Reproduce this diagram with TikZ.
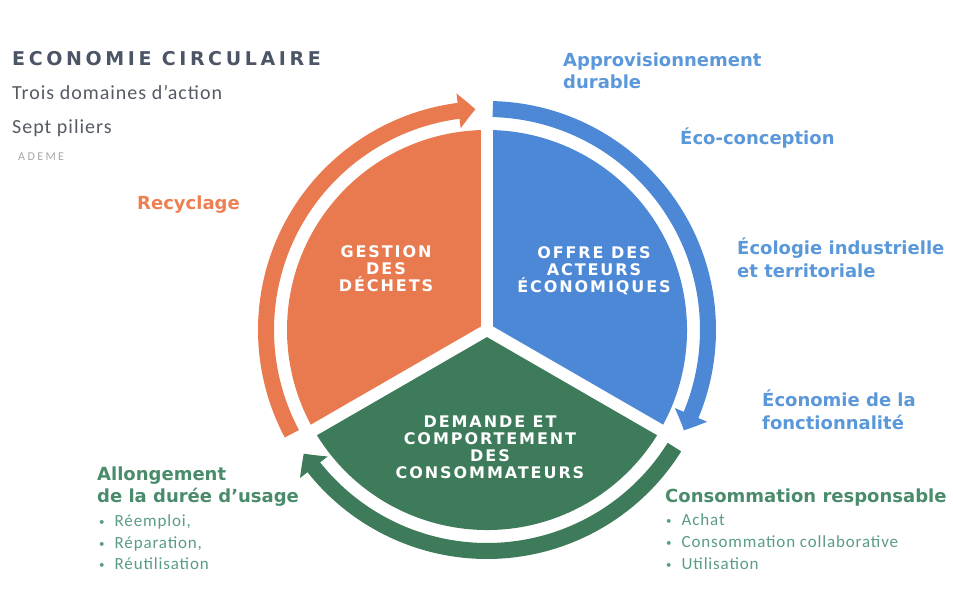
\documentclass[tikz,border=0pt]{standalone}
\usepackage{fontspec}
\setmainfont{Carlito}
\newfontfamily\grasfont{DejaVu Sans}
\newfontfamily\capsfont{DejaVu Sans}[LetterSpace=12]
\newfontfamily\titrefont{DejaVu Sans}[LetterSpace=19]
\newfontfamily\corpsfont{Carlito}[LetterSpace=5]
\newfontfamily\petitfont{Carlito}[LetterSpace=20]
\usepackage{xcolor}
\usepackage{tikz}
\usetikzlibrary{arrows.meta, bending, positioning}
\definecolor{orangeC}{HTML}{E97A4F}
\definecolor{orangeT}{HTML}{EC8052}
\definecolor{bleuC}{HTML}{4C88D6}
\definecolor{bleuT}{HTML}{5A98DA}
\definecolor{vertC}{HTML}{3D7B5B}
\definecolor{vertT}{HTML}{4A8B6C}
\definecolor{vertP}{HTML}{5A9C84}
\definecolor{titreC}{HTML}{4C5566}
\definecolor{texteC}{HTML}{555A64}
\newcommand{\pointpuce}{{\fontsize{11}{11}\selectfont\raisebox{1pt}{•}}\hspace{10pt}}
\tikzstyle{titrepilier} = [text=white, align=center, font=\capsfont\bfseries\fontsize{16}{17}\selectfont]
\tikzstyle{pilier} = [anchor=base west, inner sep=0pt, align=left, font=\grasfont\bfseries\fontsize{18}{22}\selectfont]
\tikzstyle{puce} = [anchor=base west, inner sep=0pt, text=vertP, font=\corpsfont\fontsize{17}{21}\selectfont]
\tikzstyle{soustitre} = [anchor=base west, inner sep=0pt, text=texteC, font=\corpsfont\fontsize{20}{24}\selectfont]
\tikzstyle{anneau} = [line width=16pt, -{Triangle[width=34pt,length=17pt,bend]}]

\begin{document}
\begin{tikzpicture}[x=1pt, y=1pt]
    \useasboundingbox (0,0) rectangle (953,604);
    \coordinate (centre) at (487,274);

    % les trois domaines
    \fill[orangeC] (centre) -- ++(90:200) arc[start angle=90, end angle=210, radius=200] -- cycle;
    \fill[bleuC] (centre) -- ++(-30:200) arc[start angle=-30, end angle=90, radius=200] -- cycle;
    \fill[vertC] (centre) -- ++(210:200) arc[start angle=210, end angle=330, radius=200] -- cycle;
    \foreach \a in {90,210,330}
        \draw[white, line width=12pt] (centre) -- ++(\a:206);

    % les fleches
    \draw[anneau, orangeC] ([shift={(208:221)}]centre) arc[start angle=208, end angle=93, radius=221];
    \draw[anneau, bleuC] ([shift={(88.5:221)}]centre) arc[start angle=88.5, end angle=-27, radius=221];
    \draw[anneau, vertC] ([shift={(-32:221)}]centre) arc[start angle=-32, end angle=-146, radius=221];

    \node (gestion) [titrepilier] at (386,335) {GESTION\\DES\\DÉCHETS};
    \node (offre) [titrepilier] at (594,333) {OFFRE DES\\ACTEURS\\ÉCONOMIQUES};
    \node (demande) [titrepilier] at (490,157) {DEMANDE ET\\COMPORTEMENT\\DES\\CONSOMMATEURS};

    \node (titre) [anchor=base west, inner sep=0pt, text=titreC, font=\titrefont\bfseries\fontsize{19}{23}\selectfont] at (12,538) {ECONOMIE CIRCULAIRE};
    \node (trois) [soustitre] at (12,504) {Trois domaines d’action};
    \node (sept) [soustitre] at (12,470) {Sept piliers};
    \node (ademe) [anchor=base west, inner sep=0pt, text=black!35, font=\petitfont\fontsize{12}{14}\selectfont] at (18,443) {ADEME};

    \node (approv) [pilier, text=bleuT] at (563,515) {Approvisionnement\\durable};
    \node (ecoconc) [pilier, text=bleuT] at (680,459) {Éco-conception};
    \node (ecolo) [pilier, text=bleuT, font=\grasfont\bfseries\fontsize{18}{23}\selectfont] at (737,326) {Écologie industrielle\\et territoriale};
    \node (fonct) [pilier, text=bleuT, font=\grasfont\bfseries\fontsize{18}{23}\selectfont] at (762,174) {Économie de la\\fonctionnalité};
    \node (recyc) [pilier, text=orangeT] at (137,394) {Recyclage};
    \node (allong) [pilier, text=vertT] at (97,101) {Allongement\\de la durée d’usage};
    \node (conso) [pilier, text=vertT] at (665,101) {Consommation responsable};

    \node (reemp) [puce] at (99,77) {\pointpuce Réemploi,};
    \node (repar) [puce] at (99,55) {\pointpuce Réparation,};
    \node (reuti) [puce] at (99,34) {\pointpuce Réutilisation};
    \node (achat) [puce] at (666,78) {\pointpuce Achat};
    \node (collab) [puce] at (666,56) {\pointpuce Consommation collaborative};
    \node (utili) [puce] at (666,34) {\pointpuce Utilisation};
\end{tikzpicture}
\end{document}
